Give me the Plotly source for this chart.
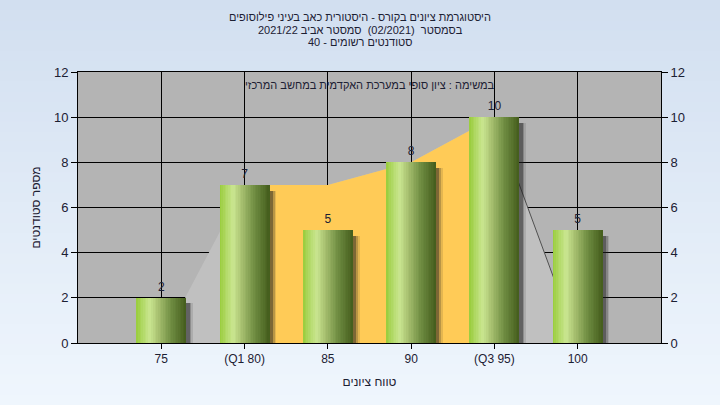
import plotly.graph_objects as go

# ---------------- data ----------------
categories = ["75", "(Q1 80)", "85", "90", "(Q3 95)", "100"]
counts = [2, 7, 5, 8, 10, 5]
envelope = [0, 7, 7, 8, 10, 0]      # background area outline
q1_index = 1
q3_index = 4
y_ticks = [0, 2, 4, 6, 8, 10, 12]

title_lines = [
    "היסטוגרמת ציונים בקורס - היסטורית כאב בעיני פילוסופים",
    "בסמסטר  (02/2021)  סמסטר אביב 2021/22",
    "סטודנטים רשומים - 40",
]
subtitle = "במשימה : ציון סופי במערכת האקדמית במחשב המרכזי"
x_title = "טווח ציונים"
y_title = "מספר סטודנטים"

RLM = "\u200f"
FONT = "Arial, Liberation Sans, DejaVu Sans, sans-serif"
TXT = "#1c2033"

xs = list(range(len(categories)))

# layout geometry (pixels)
W, H = 720, 405
L, R, T, B = 78, 59, 72, 62
PW, PH = W - L - R, H - T - B

fig = go.Figure()

# background area (light gray) on base subplot
fig.add_trace(go.Scatter(x=xs, y=envelope, mode="lines", fill="tozeroy",
                         fillcolor="#c0c0c0", line=dict(width=0, color="#c0c0c0"),
                         hoverinfo="skip", showlegend=False))
# inter-quartile area (yellow)
fig.add_trace(go.Scatter(x=xs[q1_index:q3_index + 1], y=envelope[q1_index:q3_index + 1],
                         mode="lines", fill="tozeroy", fillcolor="#ffcb57",
                         line=dict(width=0, color="#ffcb57"),
                         hoverinfo="skip", showlegend=False))
# dark edge on the right descent
fig.add_trace(go.Scatter(x=xs[q3_index:], y=envelope[q3_index:], mode="lines",
                         line=dict(width=1, color="#505050"),
                         hoverinfo="skip", showlegend=False))

BAR_W = 0.6
# shadows (overlay subplot, above areas)
for dx, alpha in [(0.08, 0.12), (0.06, 0.22), (0.04, 0.38)]:
    fig.add_trace(go.Bar(x=xs, y=[c - 0.15 for c in counts], base=-0.1,
                         width=BAR_W, offset=-BAR_W / 2 + dx, yaxis="y2",
                         marker=dict(color=f"rgba(30,30,30,{alpha})", line=dict(width=0)),
                         hoverinfo="skip", showlegend=False))

# cylinder gradient bars made of vertical strips
stops = [(0.0, (152, 204, 58)), (0.12, (176, 216, 100)), (0.27, (202, 230, 145)),
         (0.45, (165, 190, 110)), (0.7, (110, 140, 65)), (1.0, (68, 92, 28))]


def grad(t):
    for (t0, c0), (t1, c1) in zip(stops[:-1], stops[1:]):
        if t0 <= t <= t1:
            f = (t - t0) / (t1 - t0)
            return "rgb(%d,%d,%d)" % tuple(round(a + (b - a) * f) for a, b in zip(c0, c1))
    return "rgb(%d,%d,%d)" % stops[-1][1]


N = 30
sw = BAR_W / N
for k in range(N):
    t = (k + 0.5) / N
    wk = sw * 1.6 if k < N - 1 else sw
    fig.add_trace(go.Bar(x=xs, y=counts, width=wk, offset=-BAR_W / 2 + k * sw,
                         yaxis="y2",
                         marker=dict(color=grad(t), line=dict(width=0)),
                         hoverinfo="skip", showlegend=False))

# value labels
fig.add_trace(go.Scatter(x=xs, y=counts, mode="markers+text", text=[str(c) for c in counts],
                         textposition="top center",
                         marker=dict(size=5, color="rgba(0,0,0,0)"),
                         textfont=dict(family=FONT, size=12, color=TXT),
                         yaxis="y2", cliponaxis=False, hoverinfo="skip", showlegend=False))

# gradient page background + plot area rectangle (paper-referenced shapes)
shapes = []
NB = 40
top_c, bot_c = (210, 223, 240), (239, 246, 253)
for i in range(NB):
    f = i / (NB - 1)
    col = "rgb(%d,%d,%d)" % tuple(round(a + (b - a) * f) for a, b in zip(top_c, bot_c))
    py0 = H * i / NB
    py1 = H * (i + 1) / NB + 0.8
    shapes.append(dict(type="rect", xref="paper", yref="paper", layer="below",
                       x0=-L / PW, x1=(W - L) / PW,
                       y0=(H - B - py1) / PH, y1=(H - B - py0) / PH,
                       fillcolor=col, line=dict(width=0)))
shapes.append(dict(type="rect", xref="paper", yref="paper", layer="below",
                   x0=0, x1=1, y0=0, y1=1, fillcolor="#b4b4b4", line=dict(width=0)))

annotations = []
for line, py in zip(title_lines, [17, 30, 42]):
    annotations.append(dict(text=RLM + line + RLM, xref="paper", yref="paper",
                            x=(W / 2 - L) / PW, y=(H - B - py) / PH,
                            xanchor="center", yanchor="middle", showarrow=False,
                            font=dict(family=FONT, size=11, color=TXT)))
annotations.append(dict(text=RLM + subtitle + RLM, xref="paper", yref="paper",
                        x=0.5, y=(H - B - 85) / PH, xanchor="center", yanchor="middle",
                        showarrow=False, font=dict(family=FONT, size=11, color=TXT)))

fig.update_layout(
    width=W, height=H,
    margin=dict(l=L, r=R, t=T, b=B),
    paper_bgcolor="#e0e9f5",
    plot_bgcolor="rgba(0,0,0,0)",
    barmode="overlay",
    bargap=0,
    showlegend=False,
    shapes=shapes,
    annotations=annotations,
    font=dict(family=FONT, size=12, color=TXT),
    xaxis=dict(range=[-1, len(categories)], tickmode="array", tickvals=xs,
               ticktext=categories, ticks="outside", ticklen=5, tickcolor="black",
               showline=True, linecolor="black", linewidth=1, mirror=True,
               showgrid=True, gridcolor="black", gridwidth=1, zeroline=False,
               tickfont=dict(family=FONT, size=12, color=TXT),
               title=dict(text=RLM + x_title + RLM, standoff=12,
                          font=dict(family=FONT, size=12, color=TXT))),
    yaxis=dict(range=[0, 12], tickmode="array", tickvals=y_ticks,
               ticks="outside", ticklen=6, tickcolor="black",
               showline=True, linecolor="black", linewidth=1,
               showgrid=True, gridcolor="black", gridwidth=1, zeroline=False,
               tickfont=dict(family=FONT, size=13, color=TXT),
               title=dict(text=RLM + y_title + RLM, standoff=10,
                          font=dict(family=FONT, size=12, color=TXT))),
    yaxis2=dict(range=[0, 12], tickmode="array", tickvals=y_ticks, overlaying="y",
                side="right", anchor="x",
                ticks="outside", ticklen=6, tickcolor="black",
                showline=True, linecolor="black", linewidth=1,
                showgrid=False, zeroline=False,
                tickfont=dict(family=FONT, size=13, color=TXT)),
)

fig.write_html("out.html", config={"displayModeBar": False},
               post_script="document.body.style.margin='0';")
